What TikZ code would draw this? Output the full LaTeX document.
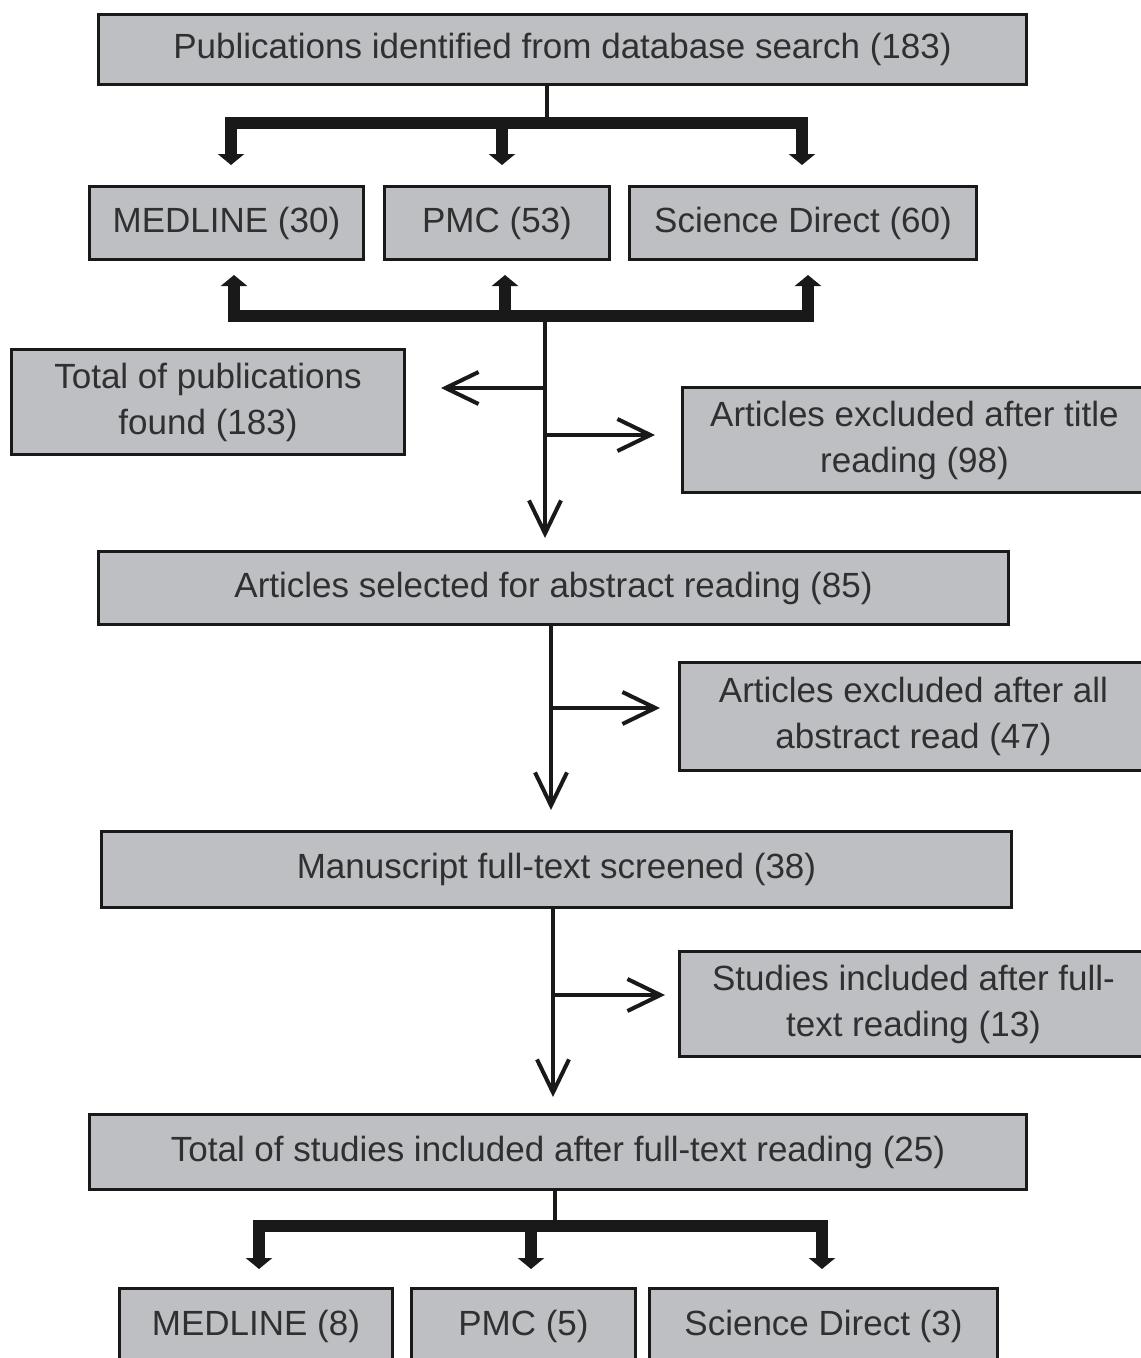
\documentclass[tikz,border=0pt]{standalone}
\usepackage{fontspec}
\setmainfont{Liberation Sans}
\usetikzlibrary{arrows.meta}
\definecolor{boxgray}{RGB}{190,191,195}
\definecolor{txtgray}{RGB}{48,48,48}
\definecolor{linek}{RGB}{25,25,25}
\begin{document}
\begin{tikzpicture}[x=1pt,y=-1pt,
  box/.style={draw=linek, line width=3pt, fill=boxgray, text=txtgray,
    font=\fontsize{35}{46}\selectfont, align=center, inner sep=0pt, anchor=north west},
  thinln/.style={draw=linek, line width=4pt},
  barln/.style={draw=linek, line width=12pt},
  solidhead/.style={-{Triangle[width=26pt,length=11pt]}},
  openhead/.style={-{Straight Barb[length=33pt,width=32pt]}}]
\useasboundingbox (0,0) rectangle (1141,1358);
\clip (0,0) rectangle (1141,1358);
\fill[white] (0,0) rectangle (1141,1358);

% boxes
\node[box, minimum width=928pt, minimum height=70pt] (pub) at (97,13) {Publications identified from database search (183)};
\node[box, minimum width=274pt, minimum height=73pt] (med1) at (88,185) {MEDLINE (30)};
\node[box, minimum width=225pt, minimum height=73pt] (pmc1) at (383,185) {PMC (53)};
\node[box, minimum width=347pt, minimum height=73pt] (sd1) at (628,185) {Science Direct (60)};
\node[box, minimum width=393pt, minimum height=105pt] (totpub) at (10,348) {Total of publications\\found (183)};
\node[box, minimum width=464pt, minimum height=105pt] (excl1) at (681,386) {Articles excluded after title\\reading (98)};
\node[box, minimum width=910pt, minimum height=73pt] (abs) at (97,550) {Articles selected for abstract reading (85)};
\node[box, minimum width=468pt, minimum height=108pt] (excl2) at (678,661) {Articles excluded after all\\abstract read (47)};
\node[box, minimum width=910pt, minimum height=76pt] (ms) at (100,830) {Manuscript full-text screened (38)};
\node[box, minimum width=468pt, minimum height=105pt] (incl) at (678,950) {Studies included after full-\\text reading (13)};
\node[box, minimum width=937pt, minimum height=75pt] (tot) at (88,1113) {Total of studies included after full-text reading (25)};
\node[box, minimum width=273pt, minimum height=75pt] (med2) at (118,1287) {MEDLINE (8)};
\node[box, minimum width=224pt, minimum height=75pt] (pmc2) at (410,1287) {PMC (5)};
\node[box, minimum width=348pt, minimum height=75pt] (sd2) at (648,1287) {Science Direct (3)};

% top fan-out
\coordinate (t1) at (547,123);
\coordinate (d1) at (231,123);
\coordinate (d2) at (502,123);
\coordinate (d3) at (802,123);
\draw[thinln] (pub.south -| t1) -- (t1);
\draw[barln, line cap=rect] (d1) -- (d3);
\draw[barln, solidhead, shorten >=20pt] (d1) -- (d1 |- med1.north);
\draw[barln, solidhead, shorten >=20pt] (d2) -- (d2 |- pmc1.north);
\draw[barln, solidhead, shorten >=20pt] (d3) -- (d3 |- sd1.north);

% merge bar below sources
\coordinate (u1) at (234,316);
\coordinate (u2) at (505,316);
\coordinate (u3) at (808,316);
\draw[barln, line cap=rect] (u1) -- (u3);
\draw[barln, solidhead, shorten >=14pt] (u1) -- (u1 |- med1.south);
\draw[barln, solidhead, shorten >=14pt] (u2) -- (u2 |- pmc1.south);
\draw[barln, solidhead, shorten >=14pt] (u3) -- (u3 |- sd1.south);

% trunk 1
\coordinate (tr1) at (545,316);
\coordinate (la) at (545,388);
\coordinate (ra) at (545,435);
\draw[thinln, openhead, shorten >=12pt] (tr1) -- (tr1 |- abs.north);
\draw[thinln, openhead, shorten >=35pt] (la) -- (la -| totpub.east);
\draw[thinln, openhead, shorten >=26pt] (ra) -- (ra -| excl1.west);

% trunk 2
\coordinate (c2) at (551,708);
\draw[thinln, openhead, shorten >=20pt] (abs.south -| c2) -- (c2 |- ms.north);
\draw[thinln, openhead, shorten >=18pt] (c2) -- (c2 -| excl2.west);

% trunk 3
\coordinate (c3) at (553,995);
\draw[thinln, openhead, shorten >=16pt] (ms.south -| c3) -- (c3 |- tot.north);
\draw[thinln, openhead, shorten >=13pt] (c3) -- (c3 -| incl.west);

% bottom fan-out
\coordinate (t4) at (555,1226);
\coordinate (e1) at (259,1226);
\coordinate (e2) at (531,1226);
\coordinate (e3) at (822,1226);
\draw[thinln] (tot.south -| t4) -- (t4);
\draw[barln, line cap=rect] (e1) -- (e3);
\draw[barln, solidhead, shorten >=18pt] (e1) -- (e1 |- med2.north);
\draw[barln, solidhead, shorten >=18pt] (e2) -- (e2 |- pmc2.north);
\draw[barln, solidhead, shorten >=18pt] (e3) -- (e3 |- sd2.north);
\end{tikzpicture}
\end{document}
